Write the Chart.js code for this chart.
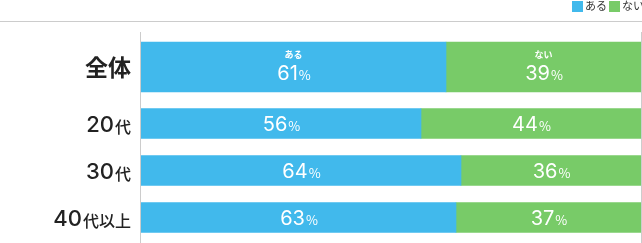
<!DOCTYPE html>
<html><head><meta charset="utf-8">
<script src="https://cdn.jsdelivr.net/npm/chart.js@4"></script>
<style>
html,body{margin:0;padding:0;background:#fff;}
#wrap{position:relative;width:642px;height:243px;overflow:hidden;font-family:"Noto Sans CJK JP",sans-serif;}
#cA{position:absolute;left:0;top:0;}
#cB{position:absolute;left:0;top:100px;}
.lg{position:absolute;top:-1px;height:13px;font-size:11px;line-height:13px;color:#333;white-space:nowrap;}
.sq{position:absolute;top:1px;width:11px;height:11px;}
</style></head>
<body>
<div id="wrap">
<canvas id="cA" width="642" height="102"></canvas>
<canvas id="cB" width="642" height="143"></canvas>
<div class="sq" style="left:572px;background:#41b9ec"></div><div class="lg" style="left:585px">ある</div>
<div class="sq" style="left:609px;background:#78cb68"></div><div class="lg" style="left:622px">ない</div>
</div>
<script>
const categories = ['全体', '20代', '30代', '40代以上'];
const seriesNames = ['ある', 'ない'];
const aruValues = [61, 56, 64, 63];
const naiValues = [39, 44, 36, 37];
const seriesColors = ['#41b9ec', '#78cb68'];

const FONT = '"Noto Sans CJK JP", "Noto Sans", sans-serif';
const NUMFONT = 'Inter, "DejaVu Sans", sans-serif';

const framePlugin = {
  id: 'frame',
  beforeDatasetsDraw(chart, args, opts) {
    const ctx = chart.ctx, a = chart.chartArea;
    ctx.save();
    ctx.strokeStyle = '#cccccc';
    ctx.lineWidth = 1;
    const top = opts.fromTop ? a.top : 0;
    ctx.beginPath();
    ctx.moveTo(Math.round(a.left) - 0.5, top);
    ctx.lineTo(Math.round(a.left) - 0.5, chart.height);
    ctx.moveTo(Math.round(a.right) + 0.5, top);
    ctx.lineTo(Math.round(a.right) + 0.5, chart.height);
    if (opts.hline) {
      ctx.moveTo(0, 21.5);
      ctx.lineTo(chart.width, 21.5);
    }
    ctx.stroke();
    ctx.restore();
  }
};

const labelPlugin = {
  id: 'labels',
  afterDatasetsDraw(chart, args, opts) {
    const ctx = chart.ctx;
    const yScale = chart.scales.y;
    ctx.save();
    chart.data.labels.forEach((lab, i) => {
      const y = yScale.getPixelForValue(i);
      const m = lab.match(/^(\d+)(.*)$/);
      ctx.fillStyle = '#222222';
      ctx.textAlign = 'right';
      const xr = 131;
      if (m) {
        ctx.textBaseline = 'alphabetic';
        const base = y + 8;
        ctx.font = '500 16px ' + FONT;
        const w2 = ctx.measureText(m[2]).width;
        ctx.fillText(m[2], xr, base + 1);
        ctx.font = '500 22px ' + NUMFONT;
        ctx.fillText(m[1], xr - w2 - 1, base);
      } else {
        ctx.textBaseline = 'middle';
        ctx.font = 'bold 23px ' + FONT;
        ctx.fillText(lab, xr, y);
      }
    });
    chart.data.datasets.forEach((ds, di) => {
      const meta = chart.getDatasetMeta(di);
      meta.data.forEach((el, i) => {
        const cx = (el.base + el.x) / 2;
        let cy = el.y;
        const num = String(ds.data[i]);
        if (opts.showName) {
          ctx.textBaseline = 'middle';
          ctx.font = 'bold 9px ' + FONT;
          ctx.fillStyle = '#ffffff';
          ctx.textAlign = 'center';
          ctx.fillText(ds.label, cx, cy - 12);
          cy += 6;
        }
        ctx.textBaseline = 'alphabetic';
        const base = cy + 7;
        ctx.font = '20px ' + NUMFONT;
        const w1 = ctx.measureText(num).width;
        ctx.font = '13px ' + FONT;
        const w2 = ctx.measureText('%').width;
        const x0 = cx - (w1 + w2) / 2;
        ctx.fillStyle = '#ffffff';
        ctx.textAlign = 'left';
        ctx.font = '20px ' + NUMFONT;
        ctx.fillText(num, x0, base);
        ctx.font = '13px ' + FONT;
        ctx.fillText('%', x0 + w1 + 1, base);
      });
    });
    ctx.restore();
  }
};

function makeChart(id, cats, aru, nai, thickness, padding, opts) {
  return new Chart(document.getElementById(id), {
    type: 'bar',
    data: {
      labels: cats,
      datasets: [
        { label: seriesNames[0], data: aru, backgroundColor: seriesColors[0], barThickness: thickness, borderWidth: 0 },
        { label: seriesNames[1], data: nai, backgroundColor: seriesColors[1], barThickness: thickness, borderWidth: 0 }
      ]
    },
    options: {
      indexAxis: 'y',
      responsive: false,
      animation: false,
      layout: { padding: padding },
      scales: {
        x: { stacked: true, min: 0, max: 100, display: false },
        y: { stacked: true, display: false, offset: true }
      },
      plugins: {
        legend: { display: false },
        tooltip: { enabled: false },
        frame: opts.frame,
        labels: opts.labels
      }
    },
    plugins: [framePlugin, labelPlugin]
  });
}

makeChart('cA', categories.slice(0, 1), aruValues.slice(0, 1), naiValues.slice(0, 1), 50,
  { top: 32, left: 141, right: 1, bottom: 0 },
  { frame: { fromTop: true, hline: true }, labels: { showName: true } });
makeChart('cB', categories.slice(1), aruValues.slice(1), naiValues.slice(1), 30,
  { top: 0, left: 141, right: 1, bottom: 2 },
  { frame: { fromTop: false, hline: false }, labels: { showName: false } });
</script>
</body></html>
